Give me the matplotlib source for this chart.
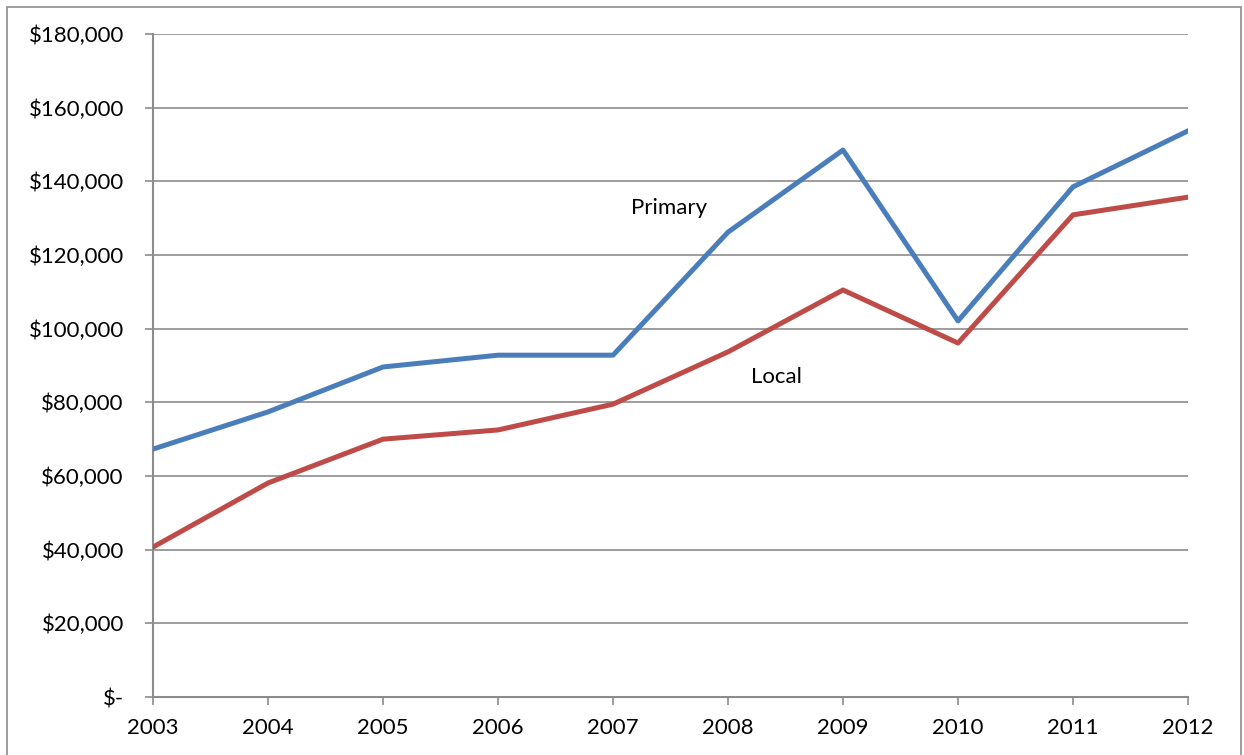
import matplotlib
matplotlib.use("Agg")
import matplotlib.pyplot as plt
from matplotlib.patches import Rectangle
from matplotlib.ticker import FuncFormatter

years = [2003, 2004, 2005, 2006, 2007, 2008, 2009, 2010, 2011, 2012]
primary = [67300, 77400, 89600, 92800, 92800, 126200, 148500, 102100, 138500, 153700]
local = [40700, 58100, 70000, 72500, 79500, 93700, 110500, 96100, 130900, 135700]
y_ticks = [0, 20000, 40000, 60000, 80000, 100000, 120000, 140000, 160000, 180000]

plt.rcParams['font.family'] = ['Lato', 'DejaVu Sans']

fig = plt.figure(figsize=(12.44, 7.55), dpi=100)
ax = fig.add_axes([153/1244, 1 - 697/755, (1188-153)/1244, (697-34)/755])

grid_c = '#8c8c8c'
ax.plot(years, primary, color='#4A7EBB', lw=3.6, solid_joinstyle='round', zorder=3)
ax.plot(years, local, color='#BE4B48', lw=3.6, solid_joinstyle='round', zorder=3)

ax.set_xlim(2003, 2012)
ax.set_ylim(0, 180000)
ax.set_yticks(y_ticks)
ax.set_xticks(years)
ax.yaxis.set_major_formatter(FuncFormatter(lambda v, p: '$-' if v == 0 else '${:,.0f}'.format(v)))
ax.grid(axis='y', color=grid_c, lw=1.2)
ax.set_axisbelow(True)
for s in ['top', 'right']:
    ax.spines[s].set_visible(False)
for s in ['left', 'bottom']:
    ax.spines[s].set_color(grid_c)
    ax.spines[s].set_linewidth(1.5)
ax.tick_params(axis='y', direction='out', length=6, width=1.2, color=grid_c, labelsize=16, pad=15)
ax.tick_params(axis='x', direction='out', length=6, width=1.2, color=grid_c, labelsize=16, pad=9)

ax.text(2007.49, 132750, 'Primary', fontsize=16, ha='center', va='center')
ax.text(2008.42, 86900, 'Local', fontsize=16, ha='center', va='center')

fig.patches.append(Rectangle((7/1244, -0.02), (1241-7)/1244, 1.02 - 7/755,
                             transform=fig.transFigure, fill=False,
                             edgecolor='#8c8c8c', lw=1.2))

fig.savefig('out.png', dpi=100)
